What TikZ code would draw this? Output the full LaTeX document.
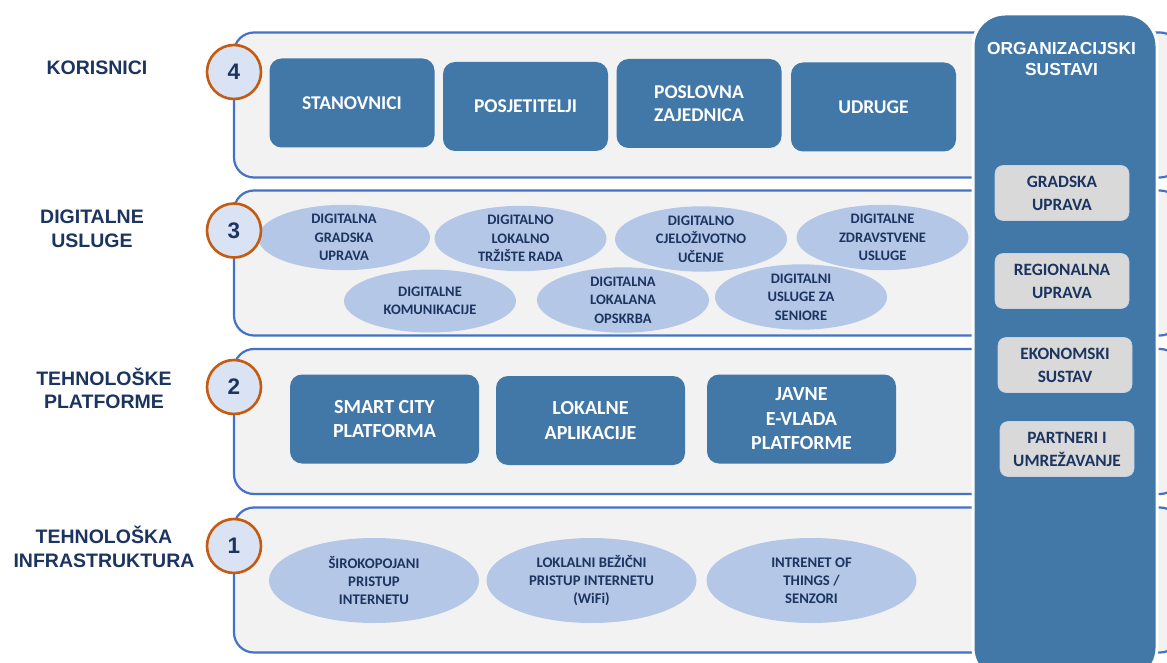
\documentclass[tikz,border=0pt]{standalone}
\usepackage{fontspec}
\setmainfont{Carlito}
\newfontfamily\arialf{Liberation Sans}
\usetikzlibrary{shapes.geometric}
\definecolor{panelB}{RGB}{68,114,196}
\definecolor{panelF}{RGB}{242,242,242}
\definecolor{boxB}{RGB}{65,120,168}
\definecolor{ellF}{RGB}{180,199,231}
\definecolor{circF}{RGB}{218,227,243}
\definecolor{orangeB}{RGB}{197,90,17}
\definecolor{navy}{RGB}{28,52,96}
\definecolor{grayF}{RGB}{217,217,217}
\definecolor{grayB}{RGB}{200,210,228}
\tikzset{
  layer/.style={draw=panelB, line width=2.2pt, fill=panelF, rounded corners=20pt, minimum width=946pt, minimum height=145pt, inner sep=0pt},
  colbox/.style={draw=white, line width=3pt, fill=boxB, rounded corners=32pt, minimum width=184pt, minimum height=666pt, inner sep=0pt},
  numc/.style={circle, draw=orangeB, line width=2.6pt, fill=circF, minimum size=54pt, inner sep=0pt, text=navy, font=\arialf\bfseries\fontsize{22.5}{22.5}\selectfont},
  userbox/.style={rectangle, rounded corners=12pt, fill=boxB, text=white, align=center, inner sep=0pt, minimum width=165pt, minimum height=89pt, font=\bfseries\fontsize{19.5}{23}\selectfont},
  platbox/.style={rectangle, rounded corners=12pt, fill=boxB, text=white, align=center, inner sep=0pt, minimum width=189pt, minimum height=89pt, font=\bfseries\fontsize{20}{24.5}\selectfont},
  svcell/.style={ellipse, fill=ellF, text=navy, align=center, inner sep=0pt, minimum width=172pt, minimum height=63pt, font=\bfseries\fontsize{14.5}{18.3}\selectfont},
  infell/.style={ellipse, fill=ellF, text=navy, align=center, inner sep=0pt, minimum width=210pt, minimum height=85pt, font=\bfseries\fontsize{14.7}{18}\selectfont},
  orgbox/.style={rectangle, rounded corners=8pt, fill=grayF, draw=grayB, line width=0.6pt, text=navy, align=center, inner sep=0pt, minimum width=134pt, minimum height=55pt, font=\bfseries\fontsize{17.3}{23}\selectfont},
  sidelab/.style={text=navy, align=center, inner sep=0pt, font=\arialf\bfseries\fontsize{19.5}{23.5}\selectfont},
  coltitle/.style={text=white, align=center, inner sep=0pt, font=\arialf\bfseries\fontsize{17.4}{21}\selectfont}
}
\begin{document}
\begin{tikzpicture}[x=1pt,y=1pt]
\useasboundingbox (0,0) rectangle (1167,-663);
\clip (0,0) rectangle (1167,-663);
\fill[white] (0,0) rectangle (1167,-663);

% layers
\node[layer] (L4) at (707,-105) {};
\node[layer] (L3) at (707,-263) {};
\node[layer] (L2) at (707,-421.5) {};
\node[layer] (L1) at (707,-580) {};

% right column
\node[colbox] (col) at (1065,-347) {};
\node[coltitle] (orgt) at (1061.5,-59) {ORGANIZACIJSKI\\SUSTAVI};
\node[orgbox] (o1) at (1062,-193) {GRADSKA\\UPRAVA};
\node[orgbox] (o2) at (1062,-281) {REGIONALNA\\UPRAVA};
\node[orgbox] (o3) at (1065,-365) {EKONOMSKI\\SUSTAV};
\node[orgbox] (o4) at (1067,-449) {PARTNERI I\\UMREŽAVANJE};

% side labels
\node[sidelab] (s4) at (97,-68) {KORISNICI};
\node[sidelab] (s3) at (92,-229) {DIGITALNE\\USLUGE};
\node[sidelab] (s2) at (104,-388.5) {TEHNOLOŠKE\\PLATFORME};
\node[sidelab] (s1) at (104,-547) {TEHNOLOŠKA\\INFRASTRUKTURA};

% layer 4: users
\node[userbox] (u1) at (352,-103) {STANOVNICI};
\node[userbox] (u2) at (525.5,-106.5) {POSJETITELJI};
\node[userbox] (u3) at (699,-103.5) {POSLOVNA\\ZAJEDNICA};
\node[userbox] (u4) at (873.5,-107) {UDRUGE};

% layer 3: digital services
\node[svcell] (d1) at (344,-237.5) {DIGITALNA\\GRADSKA\\UPRAVA};
\node[svcell] (d2) at (520.5,-238.5) {DIGITALNO\\LOKALNO\\TRŽIŠTE RADA};
\node[svcell] (d3) at (701,-239) {DIGITALNO\\CJELOŽIVOTNO\\UČENJE};
\node[svcell] (d4) at (882.5,-237.5) {DIGITALNE\\ZDRAVSTVENE\\USLUGE};
\node[svcell] (d5) at (430,-301) {DIGITALNE\\KOMUNIKACIJE};
\node[svcell] (d6) at (623,-300) {DIGITALNA\\LOKALANA\\OPSKRBA};
\node[svcell] (d7) at (801,-297) {DIGITALNI\\USLUGE ZA\\SENIORE};

% layer 2: platforms
\node[platbox] (p1) at (384.5,-419) {SMART CITY\\PLATFORMA};
\node[platbox] (p2) at (590.5,-420.5) {LOKALNE\\APLIKACIJE};
\node[platbox] (p3) at (801.5,-419) {JAVNE\\E-VLADA\\PLATFORME};

% layer 1: infrastructure
\node[infell] (i1) at (374,-580.5) {ŠIROKOPOJANI\\PRISTUP\\INTERNETU};
\node[infell] (i2) at (591.5,-580.5) {LOKLALNI BEŽIČNI\\PRISTUP INTERNETU\\(WiFi)};
\node[infell] (i3) at (811.5,-580.5) {INTRENET OF\\THINGS /\\SENZORI};

% number circles
\node[numc] (n4) at (234,-72) {4};
\node[numc] (n3) at (234,-230.5) {3};
\node[numc] (n2) at (234,-387) {2};
\node[numc] (n1) at (234,-546) {1};
\end{tikzpicture}
\end{document}
